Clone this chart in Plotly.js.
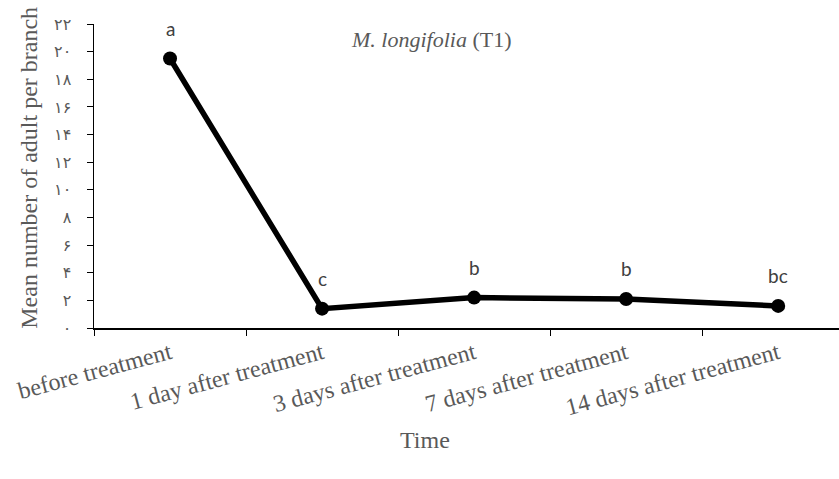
<!DOCTYPE html>
<html>
<head>
<meta charset="utf-8">
<script src="https://cdn.plot.ly/plotly-3.0.1.min.js"></script>
<style>html,body{margin:0;padding:0;background:#fff;}#chart{width:839px;height:479px;}</style>
</head>
<body>
<div id="chart"></div>
<script>
var categories = ["before treatment", "1 day after treatment", "3 days after treatment", "7 days after treatment", "14 days after treatment"];
var meanAdults = [19.5, 1.4, 2.2, 2.1, 1.6];
var groupLetters = ["a", "c", "b", "b", "bc"];
var yTickVals = [0, 2, 4, 6, 8, 10, 12, 14, 16, 18, 20, 22];
var yTickText = ["۰", "۲", "۴", "۶", "۸", "۱۰", "۱۲", "۱۴", "۱۶", "۱۸", "۲۰", "۲۲"];

var serif = "'Liberation Serif', 'Times New Roman', Times, serif";
var gray = "#595959";

var trace = {
  x: categories,
  y: meanAdults,
  type: "scatter",
  mode: "lines+markers",
  line: {color: "#000000", width: 5.5},
  marker: {color: "#000000", size: 14},
  hoverinfo: "x+y",
  cliponaxis: false
};

var annotations = categories.map(function (c, i) {
  return {
    x: c, y: meanAdults[i], xref: "x", yref: "y",
    text: groupLetters[i], showarrow: false, yshift: 30,
    font: {family: "Lato, 'Open Sans', sans-serif", size: 19, color: "#404040"}
  };
});
annotations.push({
  xref: "paper", yref: "paper", x: (431 - 94) / 745, y: 1 - (40 - 24) / 304.5,
  text: "<span style='font-style:italic'>M. longifolia</span> (T1)", showarrow: false,
  xanchor: "center", yanchor: "middle",
  font: {family: serif, size: 22, color: gray}
});
annotations.push({
  xref: "paper", yref: "paper", x: (425 - 94) / 745, y: -(441 - 328.5) / 304.5,
  text: "Time", showarrow: false, xanchor: "center", yanchor: "middle",
  font: {family: serif, size: 24, color: gray}
});
annotations.push({
  xref: "paper", yref: "paper", x: -(94 - 29) / 745, y: (328.5 - 168) / 304.5,
  text: "Mean number of adult per branch", showarrow: false, textangle: -90,
  xanchor: "center", yanchor: "middle",
  font: {family: serif, size: 24, color: gray}
});

var layout = {
  width: 839, height: 479,
  margin: {l: 94, r: 0, t: 24, b: 150.5, pad: 0},
  paper_bgcolor: "#ffffff", plot_bgcolor: "#ffffff",
  showlegend: false,
  xaxis: {
    type: "category",
    range: [-0.5, 4.4],
    tickson: "boundaries",
    ticks: "outside", ticklen: 6, tickwidth: 1, tickcolor: "#000",
    showline: true, linecolor: "#000", linewidth: 2,
    showgrid: false, zeroline: false,
    tickangle: -15,
    tickfont: {family: serif, size: 24, color: gray}
  },
  yaxis: {
    range: [0, 22],
    tickmode: "array", tickvals: yTickVals, ticktext: yTickText,
    ticks: "outside", ticklen: 6, tickwidth: 1, tickcolor: "#000",
    showline: true, linecolor: "#000", linewidth: 1.5,
    showgrid: false, zeroline: false,
    ticklabelstandoff: 12,
    tickfont: {family: "'DejaVu Sans', sans-serif", size: 16, color: gray}
  },
  annotations: annotations
};

Plotly.newPlot("chart", [trace], layout, {displayModeBar: false, staticPlot: true});
</script>
</body>
</html>
